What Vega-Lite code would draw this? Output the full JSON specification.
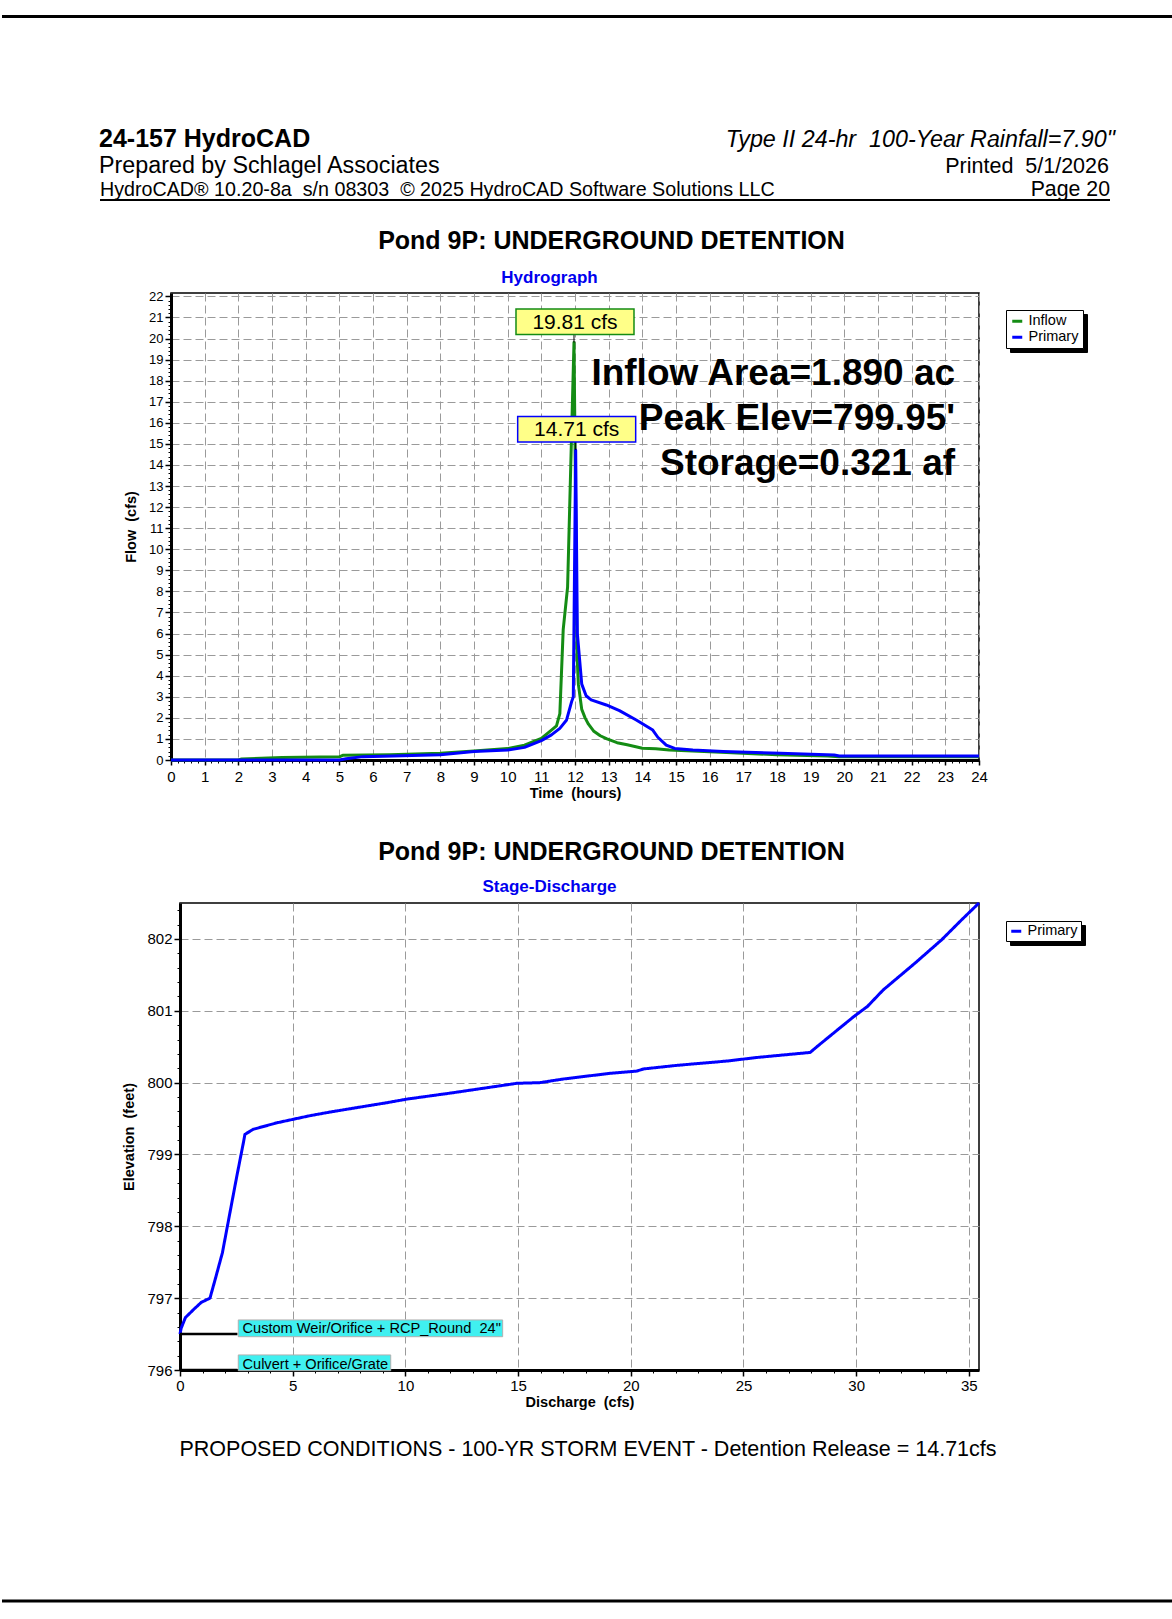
{
  "$schema": "https://vega.github.io/schema/vega-lite/v6.json",
  "background": "white",
  "padding": 0,
  "spacing": 0,
  "bounds": "full",
  "align": "none",
  "resolve": {"scale": {"color": "independent", "stroke": "independent", "shape": "independent", "strokeDash": "independent"}, "legend": {"color": "independent", "stroke": "independent", "strokeDash": "independent"}},
  "config": {
    "font": "Liberation Sans",
    "view": {"stroke": null},
    "axis": {"labelColor": "black", "titleColor": "black", "labelFont": "Liberation Sans", "titleFont": "Liberation Sans"},
    "legend": {"labelFont": "Liberation Sans", "labelColor": "black"}
  },
  "datasets": {
    "hydro": [
      {"s": "Inflow", "t": 0, "q": 0}, {"s": "Inflow", "t": 2, "q": 0}, {"s": "Inflow", "t": 2.1, "q": 0.05},
      {"s": "Inflow", "t": 3.3, "q": 0.12}, {"s": "Inflow", "t": 5.0, "q": 0.15}, {"s": "Inflow", "t": 5.1, "q": 0.22},
      {"s": "Inflow", "t": 6.5, "q": 0.25}, {"s": "Inflow", "t": 8.0, "q": 0.32}, {"s": "Inflow", "t": 9.0, "q": 0.43},
      {"s": "Inflow", "t": 10.0, "q": 0.54}, {"s": "Inflow", "t": 10.5, "q": 0.70}, {"s": "Inflow", "t": 11.0, "q": 1.03},
      {"s": "Inflow", "t": 11.3, "q": 1.42}, {"s": "Inflow", "t": 11.45, "q": 1.62}, {"s": "Inflow", "t": 11.55, "q": 2.2},
      {"s": "Inflow", "t": 11.65, "q": 6.2}, {"s": "Inflow", "t": 11.78, "q": 8.2}, {"s": "Inflow", "t": 11.97, "q": 19.81},
      {"s": "Inflow", "t": 12.02, "q": 12.0}, {"s": "Inflow", "t": 12.06, "q": 5.0}, {"s": "Inflow", "t": 12.1, "q": 3.6},
      {"s": "Inflow", "t": 12.2, "q": 2.4}, {"s": "Inflow", "t": 12.3, "q": 2.0}, {"s": "Inflow", "t": 12.4, "q": 1.7},
      {"s": "Inflow", "t": 12.55, "q": 1.38}, {"s": "Inflow", "t": 12.75, "q": 1.15}, {"s": "Inflow", "t": 12.95, "q": 1.0},
      {"s": "Inflow", "t": 13.25, "q": 0.82}, {"s": "Inflow", "t": 13.55, "q": 0.72}, {"s": "Inflow", "t": 14.0, "q": 0.56},
      {"s": "Inflow", "t": 14.4, "q": 0.53}, {"s": "Inflow", "t": 14.8, "q": 0.47}, {"s": "Inflow", "t": 15.5, "q": 0.43},
      {"s": "Inflow", "t": 16.5, "q": 0.35}, {"s": "Inflow", "t": 18.0, "q": 0.25}, {"s": "Inflow", "t": 19.5, "q": 0.19},
      {"s": "Inflow", "t": 19.85, "q": 0.16}, {"s": "Inflow", "t": 24, "q": 0.15},
      {"s": "Primary", "t": 0, "q": 0}, {"s": "Primary", "t": 5.0, "q": 0}, {"s": "Primary", "t": 5.2, "q": 0.06},
      {"s": "Primary", "t": 5.7, "q": 0.16}, {"s": "Primary", "t": 6.6, "q": 0.19}, {"s": "Primary", "t": 8.0, "q": 0.25},
      {"s": "Primary", "t": 9.0, "q": 0.40}, {"s": "Primary", "t": 10.0, "q": 0.47}, {"s": "Primary", "t": 10.5, "q": 0.6},
      {"s": "Primary", "t": 11.0, "q": 0.92}, {"s": "Primary", "t": 11.3, "q": 1.19}, {"s": "Primary", "t": 11.55, "q": 1.5},
      {"s": "Primary", "t": 11.75, "q": 1.9}, {"s": "Primary", "t": 11.9, "q": 2.77}, {"s": "Primary", "t": 11.95, "q": 3.0},
      {"s": "Primary", "t": 12.02, "q": 14.71}, {"s": "Primary", "t": 12.07, "q": 6.0}, {"s": "Primary", "t": 12.2, "q": 3.6},
      {"s": "Primary", "t": 12.33, "q": 3.05}, {"s": "Primary", "t": 12.48, "q": 2.85}, {"s": "Primary", "t": 12.93, "q": 2.61},
      {"s": "Primary", "t": 13.32, "q": 2.34}, {"s": "Primary", "t": 13.82, "q": 1.9}, {"s": "Primary", "t": 14.31, "q": 1.42},
      {"s": "Primary", "t": 14.46, "q": 1.08}, {"s": "Primary", "t": 14.71, "q": 0.71}, {"s": "Primary", "t": 14.96, "q": 0.55},
      {"s": "Primary", "t": 15.5, "q": 0.47}, {"s": "Primary", "t": 16.4, "q": 0.40}, {"s": "Primary", "t": 18.1, "q": 0.32},
      {"s": "Primary", "t": 19.7, "q": 0.24}, {"s": "Primary", "t": 19.85, "q": 0.19}, {"s": "Primary", "t": 24, "q": 0.19}
    ],
    "peaks": [
      {"s": "Inflow", "t": 11.97, "q": 19.81, "label": "19.81 cfs"},
      {"s": "Primary", "t": 12.02, "q": 14.71, "label": "14.71 cfs"}
    ],
    "stage": [
      {"s": "Primary", "Q": 0.0, "E": 796.5}, {"s": "Primary", "Q": 0.05, "E": 796.58}, {"s": "Primary", "Q": 0.24, "E": 796.73},
      {"s": "Primary", "Q": 0.63, "E": 796.85}, {"s": "Primary", "Q": 0.94, "E": 796.94}, {"s": "Primary", "Q": 1.33, "E": 797.0},
      {"s": "Primary", "Q": 1.56, "E": 797.26}, {"s": "Primary", "Q": 1.88, "E": 797.63}, {"s": "Primary", "Q": 2.51, "E": 798.68},
      {"s": "Primary", "Q": 2.81, "E": 799.16}, {"s": "Primary", "Q": 2.88, "E": 799.28}, {"s": "Primary", "Q": 3.25, "E": 799.35},
      {"s": "Primary", "Q": 4.29, "E": 799.44}, {"s": "Primary", "Q": 5.03, "E": 799.49}, {"s": "Primary", "Q": 5.77, "E": 799.54},
      {"s": "Primary", "Q": 6.65, "E": 799.59}, {"s": "Primary", "Q": 8.0, "E": 799.66}, {"s": "Primary", "Q": 9.17, "E": 799.72},
      {"s": "Primary", "Q": 10.06, "E": 799.77}, {"s": "Primary", "Q": 12.13, "E": 799.86}, {"s": "Primary", "Q": 14.94, "E": 799.99},
      {"s": "Primary", "Q": 15.98, "E": 800.0}, {"s": "Primary", "Q": 17.0, "E": 800.05}, {"s": "Primary", "Q": 19.1, "E": 800.13},
      {"s": "Primary", "Q": 20.26, "E": 800.16}, {"s": "Primary", "Q": 20.56, "E": 800.19}, {"s": "Primary", "Q": 22.04, "E": 800.24},
      {"s": "Primary", "Q": 24.26, "E": 800.30}, {"s": "Primary", "Q": 25.6, "E": 800.35}, {"s": "Primary", "Q": 27.96, "E": 800.42},
      {"s": "Primary", "Q": 28.26, "E": 800.50}, {"s": "Primary", "Q": 29.0, "E": 800.69}, {"s": "Primary", "Q": 29.9, "E": 800.92},
      {"s": "Primary", "Q": 30.5, "E": 801.06}, {"s": "Primary", "Q": 31.2, "E": 801.29}, {"s": "Primary", "Q": 32.6, "E": 801.66},
      {"s": "Primary", "Q": 33.8, "E": 801.99}, {"s": "Primary", "Q": 34.66, "E": 802.26}, {"s": "Primary", "Q": 35.45, "E": 802.5}
    ],
    "devices": [
      {"device": "Custom Weir/Orifice + RCP_Round\u00a0 24\"", "invert": 796.5},
      {"device": "Culvert + Orifice/Grate", "invert": 796.0}
    ]
  },
  "vconcat": [
    {
      "width": 1172, "height": 33,
      "view": {"fill": "white", "stroke": null},
      "data": {"values": [{}]},
      "mark": {"type": "rule", "color": "black", "strokeWidth": 3},
      "encoding": {"y": {"datum": 0.5, "type": "quantitative", "scale": {"domain": [0, 1]}, "axis": null}}
    },
    {
      "hconcat": [
        {"width": 97, "height": 119, "view": {"fill": "transparent", "stroke": null}, "data": {"values": []}, "mark": "point"},
        {
          "width": 1016, "height": 114,
          "data": {"values": [
            {"side": "left", "txt": "24-157 HydroCAD"},
            {"side": "right", "txt": "Type II 24-hr\u00a0 100-Year Rainfall=7.90\""}
          ]},
          "layer": [
            {
              "transform": [{"filter": "datum.side === 'left'"}],
              "mark": {"type": "text", "align": "left", "baseline": "alphabetic", "fontSize": 25, "fontWeight": "bold", "color": "black"},
              "encoding": {
                "x": {"datum": 0, "type": "quantitative", "scale": {"domain": [0, 1]}, "axis": null},
                "y": {"datum": 0, "type": "quantitative", "scale": {"domain": [0, 1]}, "axis": null},
                "text": {"field": "txt"}
              }
            },
            {
              "transform": [{"filter": "datum.side === 'right'"}],
              "mark": {"type": "text", "align": "right", "baseline": "alphabetic", "fontSize": 23.3, "fontStyle": "italic", "color": "black"},
              "encoding": {
                "x": {"datum": 1, "type": "quantitative", "axis": null},
                "y": {"datum": 0, "type": "quantitative", "axis": null},
                "text": {"field": "txt"}
              }
            }
          ]
        }
      ],
      "spacing": 0, "bounds": "full", "align": "none"
    },
    {
      "hconcat": [
        {"width": 97, "height": 26, "view": {"fill": "transparent", "stroke": null}, "data": {"values": []}, "mark": "point"},
        {
          "width": 1010, "height": 21,
          "data": {"values": [
            {"side": "left", "txt": "Prepared by Schlagel Associates"},
            {"side": "right", "txt": "Printed\u00a0 5/1/2026"}
          ]},
          "layer": [
            {
              "transform": [{"filter": "datum.side === 'left'"}],
              "mark": {"type": "text", "align": "left", "baseline": "alphabetic", "fontSize": 23.3, "color": "black"},
              "encoding": {
                "x": {"datum": 0, "type": "quantitative", "scale": {"domain": [0, 1]}, "axis": null},
                "y": {"datum": 0, "type": "quantitative", "scale": {"domain": [0, 1]}, "axis": null},
                "text": {"field": "txt"}
              }
            },
            {
              "transform": [{"filter": "datum.side === 'right'"}],
              "mark": {"type": "text", "align": "right", "baseline": "alphabetic", "fontSize": 21.5, "color": "black"},
              "encoding": {
                "x": {"datum": 1, "type": "quantitative", "axis": null},
                "y": {"datum": 0, "type": "quantitative", "axis": null},
                "text": {"field": "txt"}
              }
            }
          ]
        }
      ],
      "spacing": 0, "bounds": "full", "align": "none"
    },
    {
      "hconcat": [
        {"width": 97, "height": 49, "view": {"fill": "transparent", "stroke": null}, "data": {"values": []}, "mark": "point"},
        {
          "width": 1010, "height": 22,
          "data": {"values": [
            {"side": "left", "txt": "HydroCAD\u00ae 10.20-8a\u00a0 s/n 08303\u00a0 \u00a9 2025 HydroCAD Software Solutions LLC"},
            {"side": "right", "txt": "Page 20"}
          ]},
          "layer": [
            {
              "transform": [{"filter": "datum.side === 'left'"}],
              "mark": {"type": "text", "align": "left", "baseline": "bottom", "fontSize": 19.7, "color": "black"},
              "encoding": {
                "x": {"datum": 0, "type": "quantitative", "scale": {"domain": [0, 1]}, "axis": null},
                "y": {"datum": 0, "type": "quantitative", "scale": {"domain": [0, 1]}, "axis": null},
                "text": {"field": "txt"}
              }
            },
            {
              "transform": [{"filter": "datum.side === 'right'"}],
              "mark": {"type": "text", "align": "right", "baseline": "bottom", "fontSize": 21.3, "color": "black"},
              "encoding": {
                "x": {"datum": 1, "type": "quantitative", "axis": null},
                "y": {"datum": 0, "type": "quantitative", "axis": null},
                "text": {"field": "txt"}
              }
            },
            {
              "transform": [{"filter": "datum.side === 'left'"}],
              "mark": {"type": "rule", "color": "black", "strokeWidth": 2},
              "encoding": {
                "y": {"datum": 0, "type": "quantitative", "axis": null}
              }
            }
          ]
        }
      ],
      "spacing": 0, "bounds": "full", "align": "none"
    },
    {
      "hconcat": [
        {"width": 120, "height": 545, "view": {"fill": "transparent", "stroke": null}, "data": {"values": []}, "mark": "point"},
        {
          "width": 808, "height": 467,
          "view": {"stroke": "black", "strokeWidth": 1.5},
          "resolve": {"axis": {"x": "independent", "y": "independent"}},
          "layer": [
            {
              "data": {"name": "hydro"},
              "mark": {"type": "line", "strokeWidth": 3, "strokeJoin": "round"},
              "encoding": {
                "x": {
                  "field": "t", "type": "quantitative",
                  "scale": {"domain": [0, 24], "nice": false, "zero": false},
                  "axis": {
                    "orient": "bottom",
                    "values": [0,1,2,3,4,5,6,7,8,9,10,11,12,13,14,15,16,17,18,19,20,21,22,23,24],
                    "format": "d", "grid": true, "gridDash": [8, 4], "gridColor": "#9a9a9a", "gridWidth": 1,
                    "domainColor": "black", "domainWidth": 3, "tickColor": "black", "tickSize": 5, "tickWidth": 1.5,
                    "labelFontSize": 15, "labelPadding": 4, "labelFlush": false, "labelOverlap": false,
                    "title": "Time\u00a0 (hours)", "titleFontSize": 14.5, "titleFontWeight": "bold", "titlePadding": 2
                  }
                },
                "y": {
                  "field": "q", "type": "quantitative",
                  "scale": {"domain": [0, 22.16], "nice": false, "zero": false},
                  "axis": {
                    "orient": "left",
                    "values": [0,1,2,3,4,5,6,7,8,9,10,11,12,13,14,15,16,17,18,19,20,21,22],
                    "format": "d", "grid": true, "gridDash": [8, 4], "gridColor": "#9a9a9a", "gridWidth": 1,
                    "domainColor": "black", "domainWidth": 3, "tickColor": "black", "tickSize": 6, "tickWidth": 1.5,
                    "labelFontSize": 13, "labelPadding": 2, "labelOverlap": false,
                    "title": "Flow\u00a0 (cfs)", "titleFontSize": 14.5, "titleFontWeight": "bold", "titlePadding": 10
                  }
                },
                "color": {
                  "field": "s", "type": "nominal",
                  "scale": {"domain": ["Inflow", "Primary"], "range": ["#148C14", "#0000FF"]},
                  "legend": {
                    "orient": "none", "legendX": 835, "legendY": 17, "title": null, "zindex": 2,
                    "strokeColor": "black", "fillColor": "white", "padding": 4,
                    "symbolType": "stroke", "symbolStrokeWidth": 3, "symbolSize": 100,
                    "labelFontSize": 14.5, "rowPadding": 1, "labelOffset": 4
                  }
                }
              }
            },
            {
              "data": {"name": "peaks"},
              "mark": {"type": "point", "shape": "M0,0V-0.136", "size": 13924, "filled": false, "stroke": "black", "strokeWidth": 1, "opacity": 1},
              "encoding": {
                "x": {
                  "field": "t", "type": "quantitative",
                  "axis": {
                    "orient": "bottom",
                    "values": [0.2,0.4,0.6,0.8,1.2,1.4,1.6,1.8,2.2,2.4,2.6,2.8,3.2,3.4,3.6,3.8,4.2,4.4,4.6,4.8,5.2,5.4,5.6,5.8,6.2,6.4,6.6,6.8,7.2,7.4,7.6,7.8,8.2,8.4,8.6,8.8,9.2,9.4,9.6,9.8,10.2,10.4,10.6,10.8,11.2,11.4,11.6,11.8,12.2,12.4,12.6,12.8,13.2,13.4,13.6,13.8,14.2,14.4,14.6,14.8,15.2,15.4,15.6,15.8,16.2,16.4,16.6,16.8,17.2,17.4,17.6,17.8,18.2,18.4,18.6,18.8,19.2,19.4,19.6,19.8,20.2,20.4,20.6,20.8,21.2,21.4,21.6,21.8,22.2,22.4,22.6,22.8,23.2,23.4,23.6,23.8],
                    "grid": false, "labels": false, "domain": false, "tickSize": 3, "tickColor": "black", "tickWidth": 1, "title": null
                  }
                },
                "y": {
                  "field": "q", "type": "quantitative",
                  "axis": {
                    "orient": "left",
                    "values": [0.2,0.4,0.6,0.8,1.2,1.4,1.6,1.8,2.2,2.4,2.6,2.8,3.2,3.4,3.6,3.8,4.2,4.4,4.6,4.8,5.2,5.4,5.6,5.8,6.2,6.4,6.6,6.8,7.2,7.4,7.6,7.8,8.2,8.4,8.6,8.8,9.2,9.4,9.6,9.8,10.2,10.4,10.6,10.8,11.2,11.4,11.6,11.8,12.2,12.4,12.6,12.8,13.2,13.4,13.6,13.8,14.2,14.4,14.6,14.8,15.2,15.4,15.6,15.8,16.2,16.4,16.6,16.8,17.2,17.4,17.6,17.8,18.2,18.4,18.6,18.8,19.2,19.4,19.6,19.8,20.2,20.4,20.6,20.8,21.2,21.4,21.6,21.8],
                    "grid": false, "labels": false, "domain": false, "tickSize": 3, "tickColor": "black", "tickWidth": 1, "title": null
                  }
                }
              }
            },
            {
              "data": {"name": "peaks"},
              "mark": {"type": "point", "shape": "M-0.983,-0.568H1.017V-0.136H-0.983Z", "size": 13924, "filled": true, "fill": "#FFFF88", "strokeWidth": 1.5, "opacity": 1},
              "encoding": {
                "x": {"field": "t", "type": "quantitative", "axis": null},
                "y": {"field": "q", "type": "quantitative", "axis": null},
                "stroke": {
                  "field": "s", "type": "nominal",
                  "scale": {"range": ["#148C14", "#0000FF"]},
                  "legend": {
                    "orient": "none", "legendX": 839, "legendY": 21, "title": null, "zindex": 1,
                    "strokeColor": "black", "fillColor": "black", "padding": 4,
                    "symbolType": "stroke", "symbolStrokeWidth": 3, "symbolSize": 100, "symbolOpacity": 0,
                    "labelFontSize": 14.5, "labelExpr": "''", "rowPadding": 1, "labelOffset": 54
                  }
                }
              }
            },
            {
              "data": {"name": "peaks"},
              "mark": {"type": "text", "fontSize": 21, "dy": -20, "dx": 1, "baseline": "middle", "align": "center", "color": "black"},
              "encoding": {
                "x": {
                  "field": "t", "type": "quantitative",
                  "axis": {
                    "orient": "top", "title": "Hydrograph", "titleColor": "#0000EE", "titleFontSize": 17, "titleFontWeight": "bold",
                    "labels": false, "ticks": false, "domain": false, "grid": false,
                    "titleX": 378, "titleY": -11, "titleBaseline": "alphabetic", "titleAlign": "center", "titleAngle": 0
                  }
                },
                "y": {"field": "q", "type": "quantitative", "axis": null},
                "text": {"field": "label"}
              }
            },
            {
              "data": {"values": [{"txt": "Inflow Area=1.890 ac\nPeak Elev=799.95'\nStorage=0.321 af"}]},
              "mark": {"type": "text", "align": "right", "baseline": "alphabetic", "fontSize": 37, "fontWeight": "bold", "lineHeight": 45, "lineBreak": "\n", "color": "black"},
              "encoding": {
                "x": {
                  "datum": 23.29, "type": "quantitative",
                  "axis": {
                    "orient": "top", "title": "Pond 9P: UNDERGROUND DETENTION", "titleColor": "black", "titleFontSize": 25, "titleFontWeight": "bold",
                    "labels": false, "ticks": false, "domain": false, "grid": false,
                    "titleX": 440, "titleY": -45, "titleBaseline": "alphabetic", "titleAlign": "center", "titleAngle": 0
                  }
                },
                "y": {"datum": 17.8, "type": "quantitative", "axis": null},
                "text": {"field": "txt"}
              }
            }
          ]
        }
      ],
      "spacing": 0, "bounds": "full", "align": "none",
      "resolve": {"scale": {"color": "independent", "stroke": "independent"}, "legend": {"color": "independent", "stroke": "independent"}}
    },
    {
      "hconcat": [
        {"width": 119, "height": 518, "view": {"fill": "transparent", "stroke": null}, "data": {"values": []}, "mark": "point"},
        {
          "width": 799, "height": 467,
          "view": {"stroke": "black", "strokeWidth": 1.5},
          "resolve": {"axis": {"x": "independent", "y": "independent"}},
          "layer": [
            {
              "data": {"name": "stage"},
              "mark": {"type": "line", "strokeWidth": 3, "strokeJoin": "round"},
              "encoding": {
                "x": {
                  "field": "Q", "type": "quantitative",
                  "scale": {"domain": [0, 35.45], "nice": false, "zero": false},
                  "axis": {
                    "orient": "bottom",
                    "values": [0, 5, 10, 15, 20, 25, 30, 35],
                    "format": "d", "grid": true, "gridDash": [8, 4], "gridColor": "#9a9a9a", "gridWidth": 1,
                    "domainColor": "black", "domainWidth": 3, "tickColor": "black", "tickSize": 6, "tickWidth": 1.5,
                    "labelFontSize": 15, "labelPadding": 2, "labelFlush": false, "labelOverlap": false,
                    "title": "Discharge\u00a0 (cfs)", "titleFontSize": 14.5, "titleFontWeight": "bold", "titlePadding": 2
                  }
                },
                "y": {
                  "field": "E", "type": "quantitative",
                  "scale": {"domain": [796, 802.5], "nice": false, "zero": false},
                  "axis": {
                    "orient": "left",
                    "values": [796, 797, 798, 799, 800, 801, 802],
                    "format": "d", "grid": true, "gridDash": [8, 4], "gridColor": "#9a9a9a", "gridWidth": 1,
                    "domainColor": "black", "domainWidth": 3, "tickColor": "black", "tickSize": 6, "tickWidth": 1.5,
                    "labelFontSize": 15, "labelPadding": 2, "labelOverlap": false,
                    "title": "Elevation\u00a0 (feet)", "titleFontSize": 14.5, "titleFontWeight": "bold", "titlePadding": 10
                  }
                },
                "color": {
                  "field": "s", "type": "nominal",
                  "scale": {"domain": ["Primary"], "range": ["#0000FF"]},
                  "legend": {
                    "orient": "none", "legendX": 826, "legendY": 18, "title": null, "zindex": 2,
                    "strokeColor": "black", "fillColor": "white", "padding": 3,
                    "symbolType": "stroke", "symbolStrokeWidth": 3, "symbolSize": 100,
                    "labelFontSize": 14.5, "labelOffset": 4
                  }
                },
                "strokeDash": {
                  "field": "s", "type": "nominal",
                  "scale": {"range": [[1, 0]]},
                  "legend": {
                    "orient": "none", "legendX": 830, "legendY": 22, "title": null, "zindex": 1,
                    "strokeColor": "black", "fillColor": "black", "padding": 3,
                    "symbolType": "stroke", "symbolStrokeWidth": 3, "symbolSize": 100, "symbolOpacity": 0,
                    "labelFontSize": 14.5, "labelExpr": "''", "labelOffset": 54
                  }
                }
              }
            },
            {
              "data": {"name": "devices"},
              "mark": {"type": "rule", "color": "black", "strokeWidth": 2.5},
              "encoding": {
                "x": {
                  "datum": 0, "type": "quantitative",
                  "axis": {
                    "orient": "bottom",
                    "values": [1,2,3,4,6,7,8,9,11,12,13,14,16,17,18,19,21,22,23,24,26,27,28,29,31,32,33,34],
                    "grid": false, "labels": false, "domain": false, "tickSize": 3, "tickColor": "black", "tickWidth": 1, "title": null
                  }
                },
                "x2": {"datum": 2.55},
                "y": {
                  "field": "invert", "type": "quantitative",
                  "axis": {
                    "orient": "left",
                    "values": [796.2,796.4,796.6,796.8,797.2,797.4,797.6,797.8,798.2,798.4,798.6,798.8,799.2,799.4,799.6,799.8,800.2,800.4,800.6,800.8,801.2,801.4,801.6,801.8,802.2,802.4],
                    "grid": false, "labels": false, "domain": false, "tickSize": 3, "tickColor": "black", "tickWidth": 1, "title": null
                  }
                }
              }
            },
            {
              "data": {"name": "devices"},
              "mark": {"type": "point", "size": 69696, "filled": true, "fill": "#40F0F0", "stroke": "#B0B0B0", "strokeWidth": 1, "opacity": 1},
              "encoding": {
                "x": {
                  "datum": 2.55, "type": "quantitative",
                  "axis": {
                    "orient": "top", "title": "Stage-Discharge", "titleColor": "#0000EE", "titleFontSize": 17, "titleFontWeight": "bold",
                    "labels": false, "ticks": false, "domain": false, "grid": false,
                    "titleX": 369, "titleY": -12, "titleBaseline": "alphabetic", "titleAlign": "center", "titleAngle": 0
                  }
                },
                "y": {"field": "invert", "type": "quantitative", "axis": null},
                "shape": {
                  "field": "device", "type": "nominal",
                  "scale": {
                    "domain": ["Custom Weir/Orifice + RCP_Round\u00a0 24\"", "Culvert + Orifice/Grate"],
                    "range": ["M0.006,-0.107H2.009V0.020H0.006Z", "M0.006,-0.114H1.161V0.005H0.006Z"]
                  },
                  "legend": null
                }
              }
            },
            {
              "data": {"name": "devices"},
              "mark": {"type": "text", "align": "left", "baseline": "alphabetic", "fontSize": 14.6, "dx": 5, "dy": -1.5, "color": "black"},
              "encoding": {
                "x": {
                  "datum": 2.55, "type": "quantitative",
                  "axis": {
                    "orient": "top", "title": "Pond 9P: UNDERGROUND DETENTION", "titleColor": "black", "titleFontSize": 25, "titleFontWeight": "bold",
                    "labels": false, "ticks": false, "domain": false, "grid": false,
                    "titleX": 431, "titleY": -44, "titleBaseline": "alphabetic", "titleAlign": "center", "titleAngle": 0
                  }
                },
                "y": {"field": "invert", "type": "quantitative", "axis": null},
                "text": {"field": "device"}
              }
            }
          ]
        }
      ],
      "spacing": 0, "bounds": "full", "align": "none",
      "resolve": {"scale": {"color": "independent", "shape": "independent", "strokeDash": "independent"}, "legend": {"color": "independent", "strokeDash": "independent"}}
    },
    {
      "width": 1172, "height": 57,
      "data": {"values": [{"txt": "PROPOSED CONDITIONS - 100-YR STORM EVENT - Detention Release = 14.71cfs"}]},
      "mark": {"type": "text", "align": "center", "baseline": "middle", "fontSize": 21.5, "color": "black"},
      "encoding": {
        "x": {"datum": 0.5, "type": "quantitative", "scale": {"domain": [0, 1]}, "axis": null},
        "y": {"datum": 0.5, "type": "quantitative", "scale": {"domain": [0, 1]}, "axis": null},
        "text": {"field": "txt"}
      }
    },
    {
      "width": 1172, "height": 246,
      "view": {"fill": "transparent", "stroke": null},
      "data": {"values": [{}]},
      "mark": {"type": "rule", "color": "black", "strokeWidth": 3},
      "encoding": {"y": {"datum": 0.5, "type": "quantitative", "scale": {"domain": [0, 1]}, "axis": null}}
    }
  ]
}
